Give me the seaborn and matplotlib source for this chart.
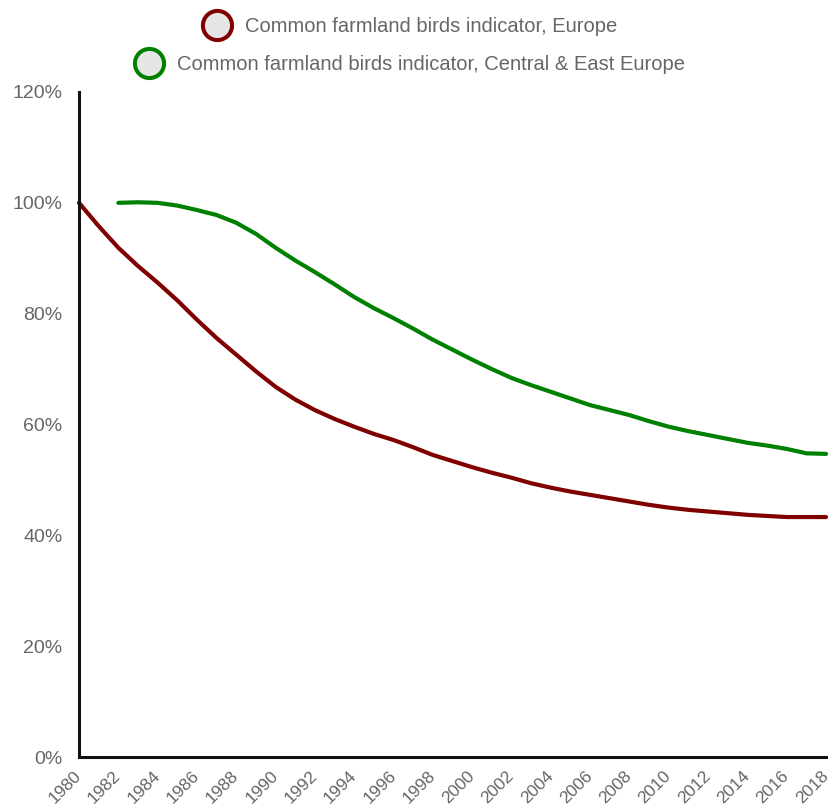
import matplotlib
matplotlib.use("Agg")
import matplotlib.pyplot as plt
import seaborn as sns
import pandas as pd
from matplotlib.lines import Line2D

years_eu = list(range(1980, 2019))
europe = [100, 95.8, 91.9, 88.6, 85.6, 82.4, 78.9, 75.6, 72.6, 69.6,
          66.8, 64.5, 62.6, 61.0, 59.6, 58.3, 57.2, 55.9, 54.5, 53.4,
          52.3, 51.3, 50.4, 49.4, 48.6, 47.9, 47.3, 46.7, 46.1, 45.5,
          45.0, 44.6, 44.3, 44.0, 43.7, 43.5, 43.3, 43.3, 43.3]

years_ce = list(range(1982, 2019))
central_east = [100, 100.1, 100, 99.5, 98.7, 97.8, 96.4, 94.4,
                91.9, 89.6, 87.5, 85.3, 83.0, 81.0, 79.2, 77.3, 75.3, 73.5,
                71.7, 70.0, 68.4, 67.1, 65.9, 64.7, 63.5, 62.6, 61.7, 60.6,
                59.6, 58.8, 58.1, 57.4, 56.7, 56.2, 55.6, 54.8, 54.7]

series_names = ["Common farmland birds indicator, Europe",
                "Common farmland birds indicator, Central & East Europe"]
colors = ["#800000", "#008000"]
x_ticks = list(range(1980, 2019, 2))
y_ticks = [0, 20, 40, 60, 80, 100, 120]

df = pd.concat([
    pd.DataFrame({"year": years_eu, "value": europe, "series": series_names[0]}),
    pd.DataFrame({"year": years_ce, "value": central_east, "series": series_names[1]}),
])

sns.set_style("white")
plt.rcParams['font.family'] = ['Liberation Sans', 'DejaVu Sans']

W, H = 830, 809
fig = plt.figure(figsize=(W / 100, H / 100), dpi=100)
ax = fig.add_axes([79 / W, 52 / H, (826 - 79) / W, (757 - 92) / H])

sns.lineplot(data=df, x="year", y="value", hue="series",
             palette=dict(zip(series_names, colors)), linewidth=3.0,
             ax=ax, legend=False)

ax.set_xlim(1980, 2018)
ax.set_ylim(0, 120)
ax.set_xticks(x_ticks)
ax.set_xticklabels([str(y) for y in x_ticks], rotation=45, ha="right",
                   va="center", rotation_mode="anchor")
ax.set_yticks(y_ticks)
ax.set_yticklabels([f"{v}%" for v in y_ticks])
ax.tick_params(axis="both", length=0, colors="#666666")
ax.tick_params(axis="x", pad=12, labelsize=12.5)
ax.tick_params(axis="y", pad=12, labelsize=14)
ax.set_xlabel("")
ax.set_ylabel("")
for s in ["top", "right"]:
    ax.spines[s].set_visible(False)
for s in ["left", "bottom"]:
    ax.spines[s].set_color("#111111")
    ax.spines[s].set_linewidth(2.2)
for ln in ax.lines:
    ln.set_clip_on(False)

fs = 14.5
anchors = [(201 / W, 1 - 27 / H), (133 / W, 1 - 65 / H)]
for name, col, (lx, ly) in zip(series_names, colors, anchors):
    h = Line2D([], [], marker="o", linestyle="none", markersize=21,
               markerfacecolor="#e6e6e6", markeredgecolor=col, markeredgewidth=2.9)
    leg = fig.legend([h], [name], loc="center left", bbox_to_anchor=(lx, ly),
                     frameon=False, fontsize=fs, handletextpad=0.6,
                     borderpad=0, borderaxespad=0, handlelength=1.6)
    for t in leg.get_texts():
        t.set_color("#666666")

fig.savefig("out.png", dpi=100)
